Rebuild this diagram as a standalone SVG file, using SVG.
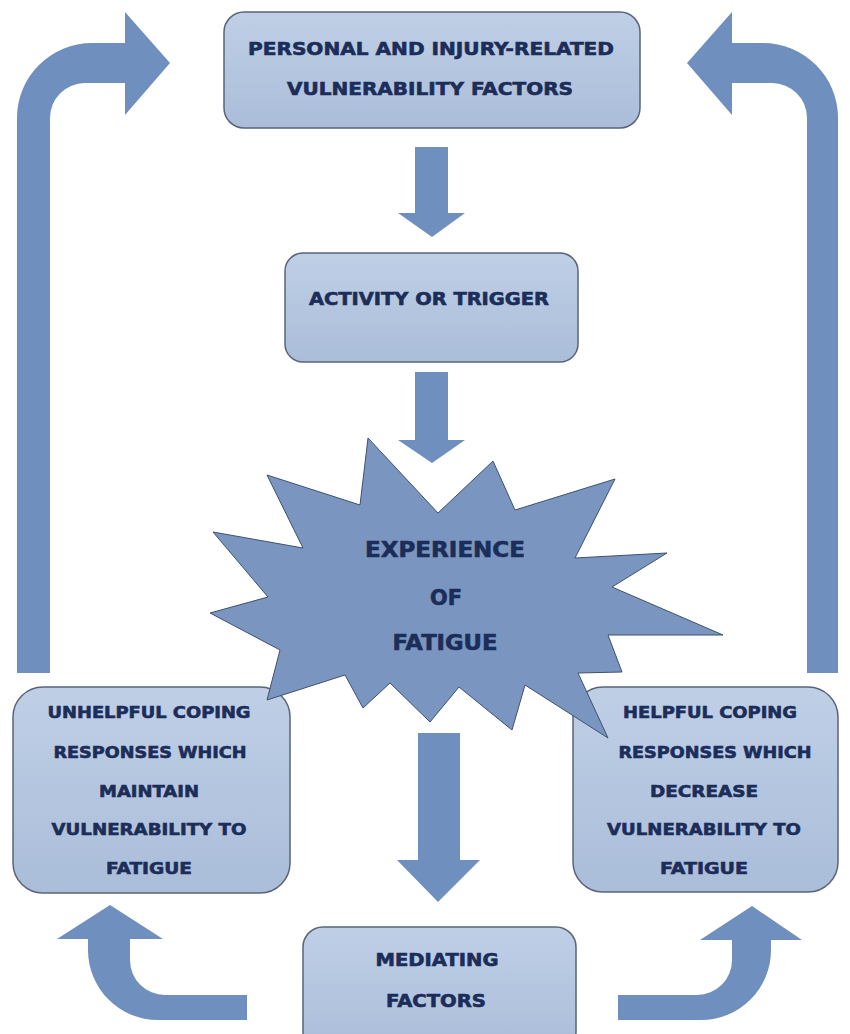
<svg xmlns="http://www.w3.org/2000/svg" width="850" height="1034" viewBox="0 0 850 1034">
<defs>
<linearGradient id="boxg" x1="0" y1="0" x2="0" y2="1">
<stop offset="0" stop-color="#bfcfe6"/>
<stop offset="1" stop-color="#aabdd9"/>
</linearGradient>
<style>
.box{fill:url(#boxg);stroke:#5a6479;stroke-width:1.5}
.arr{fill:#6f8fbe;stroke:none}
.star{fill:#7a96c0;stroke:#3f5170;stroke-width:1}
text{font-family:"DejaVu Sans","Liberation Sans",sans-serif;font-weight:bold;fill:#1b2d58;stroke:#1b2d58;stroke-width:0.6;text-anchor:middle}
.t16{font-size:16px}
.t17{font-size:17px}
.t21{font-size:21px}
</style>
</defs>
<rect width="850" height="1034" fill="#ffffff"/>
<g id="connectors">
<path class="arr" d="M17,673 L17,118 A75,75 0 0 1 92,43 L125,43 L125,12 L170,63 L125,115 L125,83 L85,83 A35,35 0 0 0 50,118 L50,673 Z"/>
<path class="arr" d="M838,673 L838,118 A75,75 0 0 0 763,43 L732,43 L732,12 L687,63 L732,115 L732,83 L772,83 A35,35 0 0 1 807,118 L807,673 Z"/>
<path class="arr" d="M415,147 L448,147 L448,213 L465,213 L432,237 L398,213 L415,213 Z"/>
<path class="arr" d="M415,372 L448,372 L448,440 L465,440 L432,463 L398,440 L415,440 Z"/>
<path class="arr" d="M418,733 L460,733 L460,860 L480,860 L438,902 L397,860 L418,860 Z"/>
<path class="arr" d="M110,905 L163,939 L130,939 L130,960 A35,35 0 0 0 165,995 L247,995 L247,1020 L158,1020 A70,70 0 0 1 88,950 L88,939 L57,939 Z"/>
<path class="arr" d="M752,906 L802,940 L771,940 L771,950 A70,70 0 0 1 701,1020 L618,1020 L618,995 L697,995 A35,35 0 0 0 732,960 L732,940 L700,940 Z"/>
</g>
<g id="node-personal">
<rect class="box" x="224" y="12" width="416" height="116" rx="20"/>
<text class="t17" x="431" y="55" textLength="366" lengthAdjust="spacingAndGlyphs">PERSONAL AND INJURY-RELATED</text>
<text class="t17" x="430" y="95" textLength="286" lengthAdjust="spacingAndGlyphs">VULNERABILITY FACTORS</text>
</g>
<g id="node-activity">
<rect class="box" x="285" y="253" width="293" height="109" rx="18"/>
<text class="t17" x="429" y="305" textLength="240" lengthAdjust="spacingAndGlyphs">ACTIVITY OR TRIGGER</text>
</g>
<g id="node-unhelpful">
<rect class="box" x="13" y="687" width="277" height="206" rx="30"/>
<text class="t16" x="149" y="718" textLength="203" lengthAdjust="spacingAndGlyphs">UNHELPFUL COPING</text>
<text class="t16" x="150" y="758" textLength="193" lengthAdjust="spacingAndGlyphs">RESPONSES WHICH</text>
<text class="t16" x="149" y="797" textLength="100" lengthAdjust="spacingAndGlyphs">MAINTAIN</text>
<text class="t16" x="149" y="835" textLength="195" lengthAdjust="spacingAndGlyphs">VULNERABILITY TO</text>
<text class="t16" x="149" y="874" textLength="86" lengthAdjust="spacingAndGlyphs">FATIGUE</text>
</g>
<g id="node-helpful">
<rect class="box" x="573" y="687" width="265" height="205" rx="30"/>
<text class="t16" x="710" y="718" textLength="174" lengthAdjust="spacingAndGlyphs">HELPFUL COPING</text>
<text class="t16" x="715" y="758" textLength="193" lengthAdjust="spacingAndGlyphs">RESPONSES WHICH</text>
<text class="t16" x="704" y="797" textLength="108" lengthAdjust="spacingAndGlyphs">DECREASE</text>
<text class="t16" x="704" y="835" textLength="194" lengthAdjust="spacingAndGlyphs">VULNERABILITY TO</text>
<text class="t16" x="704" y="874" textLength="88" lengthAdjust="spacingAndGlyphs">FATIGUE</text>
</g>
<g id="node-mediating">
<rect class="box" x="303" y="927" width="273" height="125" rx="20"/>
<text class="t17" x="437" y="966" textLength="123" lengthAdjust="spacingAndGlyphs">MEDIATING</text>
<text class="t17" x="436" y="1007" textLength="100" lengthAdjust="spacingAndGlyphs">FACTORS</text>
</g>
<g id="node-fatigue">
<polygon class="star" points="368,438 438,513 493,461 515,510 615,479 575,558 667,553 612,587 723,635 608,635 622,672 578,673 608,738 525,685 512,730 459,687 430,722 390,683 363,708 345,675 267,700 280,650 210,613 268,597 213,532 303,548 267,475 360,505"/>
<text class="t21" x="445" y="557" textLength="160" lengthAdjust="spacingAndGlyphs">EXPERIENCE</text>
<text class="t21" x="446" y="605" textLength="32" lengthAdjust="spacingAndGlyphs">OF</text>
<text class="t21" x="445" y="650" textLength="105" lengthAdjust="spacingAndGlyphs">FATIGUE</text>
</g>
</svg>
